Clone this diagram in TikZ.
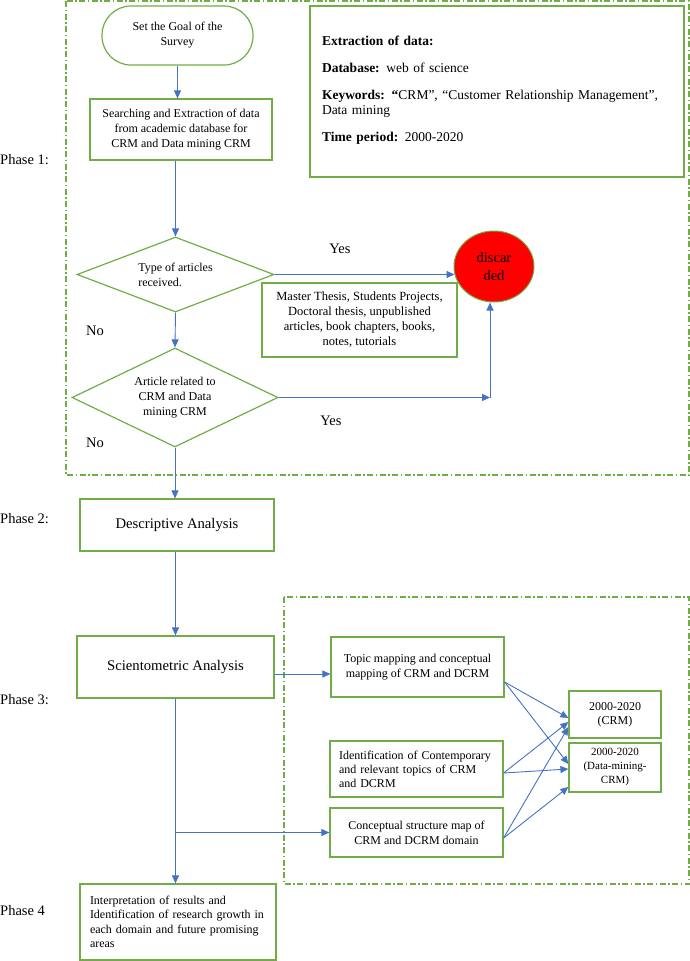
\documentclass[tikz,border=0pt]{standalone}
\usepackage{fontspec}
\setmainfont{Liberation Serif}
\usetikzlibrary{arrows.meta,shapes.geometric,calc}
\definecolor{grn}{HTML}{70AD47}
\definecolor{blu}{HTML}{4472C4}
\newcommand\fsz[2]{\fontsize{#1}{#2}\selectfont}
\begin{document}
\begin{tikzpicture}[x=1pt,y=-1pt,
  box/.style={draw=grn, line width=1.2pt, rectangle, inner sep=0pt, align=center, font=\fsz{12}{15}},
  dia/.style={diamond, draw=grn, line width=1.2pt, inner sep=0pt, aspect=2, align=center, font=\fsz{12}{15}},
  lbl/.style={inner sep=0pt, font=\fsz{14.5}{17}},
  frame/.style={draw=grn, line width=1.1pt, dash pattern=on 6pt off 2.5pt on 1.5pt off 2.5pt},
  arr/.style={draw=blu, line width=0.9pt, -{Triangle[length=8pt,width=7pt]}}]
\useasboundingbox (0,0) rectangle (690,961);

% frames
\draw[frame] (66,1) rectangle (689,475);
\draw[frame] (284,597) rectangle (689,884);

% phase 1
\node[box, rounded corners=29pt, minimum width=151pt, minimum height=59pt] (start) at (177.5,35.5) {Set the Goal of the\\Survey};
\node[box, minimum width=182pt, minimum height=61pt] (search) at (181,129.5) {Searching and Extraction of data\\from academic database for\\CRM and Data mining CRM};
\node[box, minimum width=374pt, minimum height=171pt, align=left, text width=350pt, inner xsep=12pt, font=\fsz{13.5}{14.5}] (extr) at (497,91.5) {\textbf{Extraction of data:}\\[12.5pt]
\textbf{Database:} web of science\\[12.5pt]
\textbf{Keywords: “}CRM”, “Customer Relationship Management”,\\
Data mining\\[12.5pt]
\textbf{Time period:} 2000-2020\\[-9pt]\mbox{}};
\node[dia, minimum width=197pt, minimum height=75pt, align=left] (d1) at (175.5,274.5) {Type of articles\\received.};
\node[dia, minimum width=206pt, minimum height=99pt] (d2) at (175,397.5) {Article related to\\CRM and Data\\mining CRM};
\node[ellipse, draw=grn, fill=red, line width=1pt, minimum width=80pt, minimum height=71pt, inner sep=0pt, align=center, font=\fsz{14.5}{18}] (disc) at (494,266.5) {discar\\ded};
\node[box, minimum width=195pt, minimum height=74pt, font=\fsz{12.5}{15}] (list) at (359.5,320) {Master Thesis, Students Projects,\\Doctoral thesis, unpublished\\articles, book chapters, books,\\notes, tutorials};

\node[lbl] (yes1) at (340,249) {Yes};
\node[lbl] (yes2) at (331,421) {Yes};
\node[lbl] (no1) at (95,331) {No};
\node[lbl] (no2) at (95,443) {No};

% phase labels
\node[lbl, anchor=west] (p1) at (0,160) {Phase 1:};
\node[lbl, anchor=west] (p2) at (0,519) {Phase 2:};
\node[lbl, anchor=west] (p3) at (0,700) {Phase 3:};
\node[lbl, anchor=west] (p4) at (0,911) {Phase 4};

% phase 2-4
\node[box, minimum width=194pt, minimum height=52pt, font=\fsz{14.7}{17}] (desc) at (177,525) {Descriptive Analysis};
\node[box, minimum width=197pt, minimum height=62pt, font=\fsz{14.7}{17}] (sci) at (175.5,667) {Scientometric Analysis};
\node[box, minimum width=173pt, minimum height=60pt] (topic) at (417.5,667) {Topic mapping and conceptual\\mapping of CRM and DCRM};
\node[box, minimum width=173pt, minimum height=56pt, align=left, text width=155pt, inner xsep=9pt, font=\fsz{12}{14}] (ident) at (416.5,769) {Identification of Contemporary\\and relevant topics of CRM\\and DCRM};
\node[box, minimum width=173pt, minimum height=49pt] (concept) at (416.5,832.5) {Conceptual structure map of\\CRM and DCRM domain};
\node[box, minimum width=92pt, minimum height=47pt, font=\fsz{12}{14}] (crm) at (615,714.5) {2000-2020\\(CRM)};
\node[box, minimum width=92pt, minimum height=49pt, font=\fsz{11}{14}] (dm) at (615,767.5) {2000-2020\\(Data-mining-\\CRM)};
\node[box, minimum width=196pt, minimum height=76pt, align=left, text width=176pt, inner xsep=10pt, font=\fsz{12}{14.5}] (interp) at (178,922) {Interpretation of results and\\Identification of research growth in\\each domain and future promising\\areas};

% connectors
\draw[arr] (start.south) -- (start.south |- search.north);
\draw[arr] (d1.north |- search.south) -- (d1.north);
\draw[arr] (d1.south) -- (d2.north);
\draw[arr] (d2.south) -- (d2.south |- desc.north);
\draw[arr] (sci.north |- desc.south) -- (sci.north);
\draw[arr] (sci.south) -- (sci.south |- interp.north);
\coordinate (br) at (sci.south |- concept.west);
\draw[arr] (br) -- (concept.west);
\draw[arr] ([yshift=-7pt]sci.east) -- ([yshift=-7pt]sci.east -| topic.west);
\draw[arr] (d1.east) -- ([xshift=1pt]d1.east -| disc.west);
\coordinate (cor) at ([xshift=-4pt]disc.south |- d2.east);
\draw[arr] (d2.east) -- (cor);
\draw[arr] (cor) -- (cor |- disc.south);

\draw[arr] ([yshift=-15pt]topic.east) -- ([yshift=-3.5pt]crm.west);
\draw[arr] ([yshift=-15pt]topic.east) -- ([yshift=3.5pt]dm.west);
\draw[arr] ([yshift=-4pt]ident.east) -- ([yshift=-7.5pt]crm.west);
\draw[arr] ([yshift=-4pt]ident.east) -- ([yshift=-1.5pt]dm.west);
\draw[arr] ([yshift=-5.5pt]concept.east) -- ([yshift=-12.5pt]crm.west);
\draw[arr] ([yshift=-5.5pt]concept.east) -- ([yshift=-19.5pt]dm.west);
\end{tikzpicture}
\end{document}
